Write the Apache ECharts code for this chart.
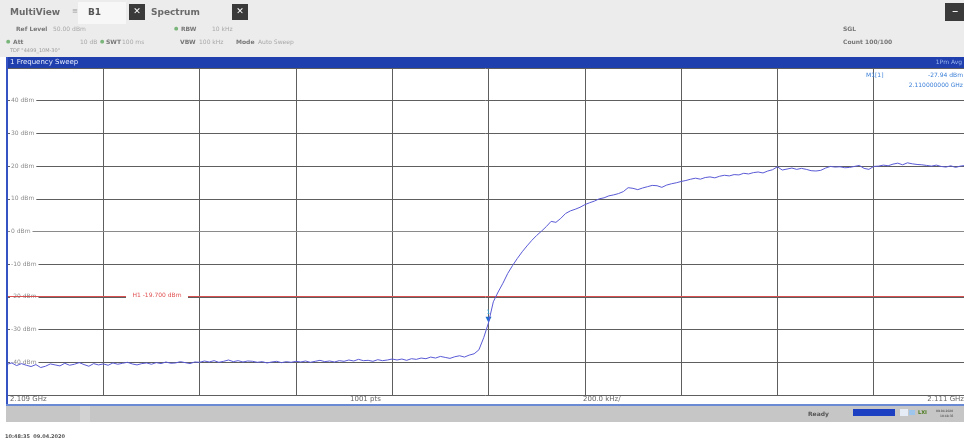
<!DOCTYPE html>
<html>
<head>
<meta charset="utf-8">
<script src="https://cdn.jsdelivr.net/npm/echarts@6/dist/echarts.min.js"></script>
<style>
html, body { margin: 0; padding: 0; background: #fff; }
#main { width: 964px; height: 444px; }
</style>
</head>
<body>
<div id="main"></div>
<script>
// sweep: 2.109 GHz .. 2.111 GHz, trace read every 10 kHz
var freqStart = 2109.0;   // MHz
var freqStep = 0.01;      // MHz
var levels = [
    -40.6, -40.2, -41.0, -40.4, -40.9, -41.3, -40.7, -41.6, -41.2, -40.5, -40.8, -41.1, -40.3, -40.9, -40.6, -40.1, -40.7, -41.2, -40.4, -40.8, -40.5,
    -40.9, -40.2, -40.6, -40.3, -40.0, -40.5, -40.8, -40.4, -40.2, -40.6, -40.1, -40.4, -39.9, -40.3, -40.2, -39.8, -40.1, -40.4, -39.9, -40.0,
    -39.6, -39.9, -39.5, -40.0, -39.7, -39.3, -39.8, -39.5, -39.9, -39.6, -39.7, -40.0, -39.8, -40.2, -39.9, -39.7, -40.1, -39.8, -40.0, -39.7,
    -39.9, -39.6, -40.0, -39.7, -39.4, -39.8, -39.6, -39.9, -39.5, -39.7, -39.3, -39.6, -39.1, -39.5, -39.4, -39.7, -39.2, -39.5, -39.3, -39.0,
    -39.3, -39.0, -39.4, -38.9, -39.1, -38.7, -38.9, -38.4, -38.7, -38.2, -38.5, -38.8, -38.3, -38.0, -38.4, -37.8, -37.4,
    -36.2, -32.5, -27.9,
    -21.5, -18.5, -15.8, -12.8, -10.4, -8.2, -6.2, -4.4, -2.7, -1.2, 0.1, 1.5, 3.1, 2.8, 4.0, 5.5, 6.3, 6.8, 7.4, 8.2,
    8.8, 9.3, 10.0, 10.3, 10.9, 11.2, 11.6, 12.2, 13.4, 13.2, 12.8, 13.3, 13.7, 14.1, 14.0, 13.5, 14.2, 14.6, 14.9, 15.3,
    15.6, 16.0, 16.3, 16.0, 16.5, 16.7, 16.4, 16.9, 17.2, 17.0, 17.4, 17.3, 17.8, 17.6, 18.0, 18.2, 17.9, 18.5, 18.9, 19.8,
    18.8, 19.1, 19.4, 19.0, 19.3, 19.0, 18.6, 18.5, 18.7, 19.4, 19.9, 19.7, 19.8, 19.5, 19.6, 19.9, 20.2, 19.3, 19.0, 19.9,
    20.0, 20.3, 20.1, 20.6, 20.9, 20.4, 21.0, 20.7, 20.5, 20.4, 20.2, 20.0, 20.3, 19.9, 19.7, 20.1, 19.6, 20.0, 20.2, 20.0
];
// the screenshot cuts the analyser screen a few pixels before 2.111 GHz
var freqVisibleEnd = 2110.9875;
var markerFreq = 2110.0;
var markerLevel = -27.94;
var h1Level = -19.7;
var yUnit = ' dBm';
var bottomLabels = ['2.109 GHz', '1001 pts', '200.0 kHz/', '2.111 GHz'];

var trace = [];
for (var i = 0; i < levels.length; i++) {
    trace.push([freqStart + i * freqStep, levels[i]]);
}

function t(x, y, s, color, font, align) {
    return {
        type: 'text', z: 100, x: x, y: y,
        style: { text: s, fill: color, font: font || '7px "DejaVu Sans"', textAlign: align || 'left', textVerticalAlign: 'middle' }
    };
}
function box(x, y, w, h, fill, z) {
    return { type: 'rect', z: z || 90, shape: { x: x, y: y, width: w, height: h }, style: { fill: fill } };
}

var chart = echarts.init(document.getElementById('main'));
chart.setOption({
    backgroundColor: '#fff',
    animation: false,
    grid: { left: 7, top: 68, right: 0, bottom: 49 },
    xAxis: {
        type: 'value',
        min: freqStart,
        max: freqVisibleEnd,
        interval: 0.2,
        axisLabel: { show: false },
        axisTick: { show: false },
        axisLine: { show: true, lineStyle: { color: '#8a8a8a', width: 1 } },
        splitLine: { show: true, showMaxLine: false, lineStyle: { color: '#5e5e5e', width: 1 } }
    },
    yAxis: {
        type: 'value',
        min: -50,
        max: 50,
        interval: 10,
        axisLine: { show: false },
        axisTick: { show: false },
        axisLabel: {
            inside: true,
            margin: 3,
            color: '#8a8a8a',
            fontFamily: 'DejaVu Sans',
            fontSize: 6,
            backgroundColor: '#fff',
            padding: [0, 2, 0, 1],
            formatter: function (v) {
                if (v === 50 || v === -50) return '';
                return v + yUnit;
            }
        },
        splitLine: { show: true, lineStyle: { color: '#5e5e5e', width: 1 } }
    },
    series: [{
        type: 'line',
        data: trace,
        showSymbol: false,
        z: 5,
        lineStyle: { color: '#5a5ad6', width: 1 },
        markLine: {
            silent: true,
            symbol: 'none',
            label: { show: false },
            lineStyle: { color: '#d85050', width: 1, type: 'solid' },
            data: [{ yAxis: h1Level }]
        },
        markPoint: {
            symbol: 'triangle',
            symbolSize: [6, 6],
            symbolRotate: 180,
            symbolOffset: [0, -3],
            itemStyle: { color: '#1f6fcf' },
            label: { show: true, position: 'top', distance: 1, formatter: '1', color: '#35a8e0', fontSize: 6, fontFamily: 'DejaVu Sans' },
            data: [{ coord: [markerFreq, markerLevel] }]
        }
    }],
    graphic: [
        // header
        box(0, 0, 964, 57, '#ececec', 80),
        box(78, 2, 48, 22, '#f7f7f7'),
        t(10, 13, 'MultiView', '#6a6a6a', 'bold 9px "DejaVu Sans"'),
        t(72, 11, '\u2261', '#9a9a9a', '7px "DejaVu Sans"'),
        t(88, 13, 'B1', '#555', 'bold 9px "DejaVu Sans"'),
        box(129, 4, 16, 16, '#3a3a3a'),
        t(137, 12, '\u2715', '#fff', 'bold 9px "DejaVu Sans"', 'center'),
        t(151, 13, 'Spectrum', '#6a6a6a', 'bold 9px "DejaVu Sans"'),
        box(232, 4, 16, 16, '#3a3a3a'),
        t(240, 12, '\u2715', '#fff', 'bold 9px "DejaVu Sans"', 'center'),
        box(945, 3, 19, 18, '#3a3a3a'),
        t(955, 12, '\u2212', '#fff', 'bold 8px "DejaVu Sans"', 'center'),

        t(16, 29, 'Ref Level', '#777', 'bold 6px "DejaVu Sans"'),
        t(53, 29, '50.00 dBm', '#a8a8a8', '6px "DejaVu Sans"'),
        t(174, 29, '\u25cf', '#7ab57a', '5px "DejaVu Sans"'),
        t(181, 29, 'RBW', '#777', 'bold 6px "DejaVu Sans"'),
        t(212, 29, '10 kHz', '#a8a8a8', '6px "DejaVu Sans"'),
        t(6, 42, '\u25cf', '#7ab57a', '5px "DejaVu Sans"'),
        t(13, 42, 'Att', '#777', 'bold 6px "DejaVu Sans"'),
        t(80, 42, '10 dB', '#a8a8a8', '6px "DejaVu Sans"'),
        t(100, 42, '\u25cf', '#7ab57a', '5px "DejaVu Sans"'),
        t(106, 42, 'SWT', '#777', 'bold 6px "DejaVu Sans"'),
        t(122, 42, '100 ms', '#a8a8a8', '6px "DejaVu Sans"'),
        t(180, 42, 'VBW', '#777', 'bold 6px "DejaVu Sans"'),
        t(199, 42, '100 kHz', '#a8a8a8', '6px "DejaVu Sans"'),
        t(236, 42, 'Mode', '#777', 'bold 6px "DejaVu Sans"'),
        t(258, 42, 'Auto Sweep', '#a8a8a8', '6px "DejaVu Sans"'),
        t(10, 51, 'TDF "4499_10M-30"', '#9a9a9a', '5px "DejaVu Sans"'),
        t(843, 29, 'SGL', '#777', 'bold 6px "DejaVu Sans"'),
        t(843, 42, 'Count 100/100', '#777', 'bold 6px "DejaVu Sans"'),

        // title bar and frame
        box(6, 57, 958, 11, '#1f3fae', 85),
        t(10, 62, '1 Frequency Sweep', '#e8eeff', '7px "DejaVu Sans"'),
        t(962, 62, '1Pm Avg', '#9bb8f0', '6px "DejaVu Sans"', 'right'),
        box(6, 57, 2, 349, '#3553c2', 95),

        // marker info
        t(866, 75, 'M1[1]', '#3a7fd8', '6px "DejaVu Sans"'),
        t(963, 75, '-27.94 dBm', '#3a7fd8', '6px "DejaVu Sans"', 'right'),
        t(963, 85, '2.110000000 GHz', '#3a7fd8', '6px "DejaVu Sans"', 'right'),

        // H1 label
        box(126, 292, 62, 7, '#fff', 95),
        t(157, 295.5, 'H1 -19.700 dBm', '#e05050', '6px "DejaVu Sans"', 'center'),

        // bottom strip
        t(10, 399, bottomLabels[0], '#666', '7px "DejaVu Sans"'),
        t(350, 399, bottomLabels[1], '#666', '7px "DejaVu Sans"'),
        t(583, 399, bottomLabels[2], '#666', '7px "DejaVu Sans"'),
        t(964, 399, bottomLabels[3], '#666', '7px "DejaVu Sans"', 'right'),
        box(6, 404, 958, 2, '#6b8ad6', 95),
        box(6, 406, 958, 16, '#c6c6c6', 90),
        box(80, 406, 10, 16, '#d2d2d2', 91),
        t(808, 414, 'Ready', '#555', 'bold 6px "DejaVu Sans"'),
        box(853, 409, 42, 7, '#1d3fc2', 95),
        box(900, 409, 8, 7, '#e6ecf5', 95),
        box(909, 410, 6, 5, '#9ec6ec', 95),
        t(918, 413, 'LXI', '#4a7a1a', 'bold 5px "DejaVu Sans"'),
        t(936, 411, '09.04.2020', '#333', '3px "DejaVu Sans"'),
        t(940, 416, '10:48:35', '#333', '3px "DejaVu Sans"'),
        t(5, 437, '10:48:35  09.04.2020', '#555', 'bold 5px "DejaVu Sans"')
    ]
});
</script>
</body>
</html>
